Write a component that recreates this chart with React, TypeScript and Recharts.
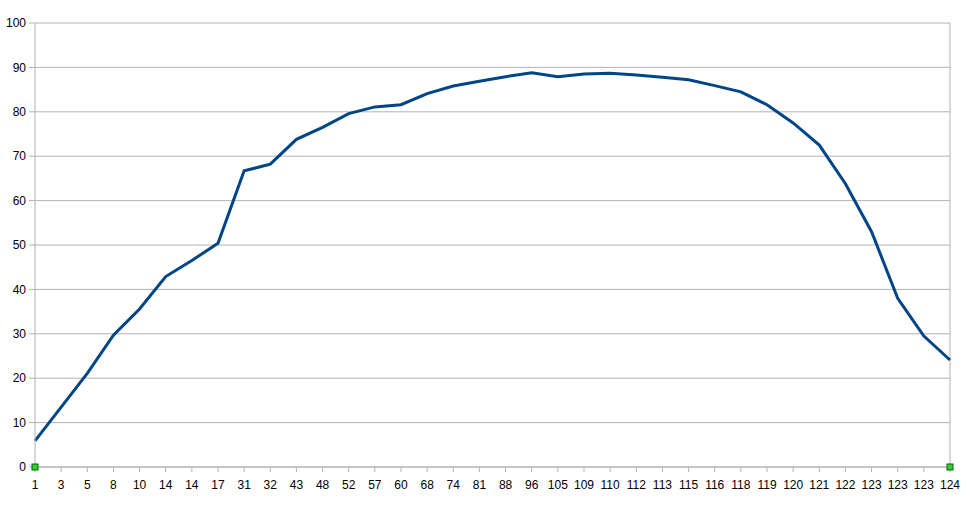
import React from "react";
import {
  LineChart,
  Line,
  XAxis,
  YAxis,
  CartesianGrid,
  ReferenceLine,
  ReferenceDot,
} from "recharts";

const labels = [
  "1", "3", "5", "8", "10", "14", "14", "17", "31", "32", "43", "48",
  "52", "57", "60", "68", "74", "81", "88", "96", "105", "109", "110", "112",
  "113", "115", "116", "118", "119", "120", "121", "122", "123", "123", "123", "124",
];

const values = [
  5.9, 13.5, 21.1, 29.7, 35.6, 42.9, 46.5, 50.4, 66.7, 68.2, 73.8, 76.5,
  79.6, 81.1, 81.6, 84.1, 85.8, 86.9, 87.9, 88.8, 87.9, 88.5, 88.7, 88.3,
  87.8, 87.2, 85.9, 84.5, 81.6, 77.5, 72.5, 63.8, 53.0, 38.0, 29.5, 24.1,
];

const yTicks = [0, 10, 20, 30, 40, 50, 60, 70, 80, 90, 100];

const data = labels.map((label, i) => ({ idx: i, label, value: values[i] }));

const gray = "#b3b3b3";
const tickFont = { fontFamily: "Liberation Sans, Arial, sans-serif", fontSize: 12, fill: "#000" };

const Handle = (props: any) => (
  <rect x={props.cx - 3} y={props.cy - 3} width={6} height={6} fill="#33cc33" stroke="#006600" strokeWidth={1} />
);

export default function App() {
  return (
    <div style={{ position: "absolute", left: 0, top: 0, background: "#fff" }}>
      <LineChart
        width={970}
        height={506}
        data={data}
        margin={{ top: 23, right: 20, bottom: 9, left: 0 }}
      >
        <CartesianGrid vertical={false} stroke={gray} strokeWidth={1} />
        <XAxis
          dataKey="idx"
          type="category"
          interval={0}
          tickFormatter={(i: number) => labels[i]}
          stroke={gray}
          tickSize={5}
          tickMargin={8}
          height={30}
          tick={tickFont}
        />
        <YAxis
          domain={[0, 100]}
          ticks={yTicks}
          interval={0}
          width={35}
          stroke={gray}
          tickSize={6}
          tickMargin={3}
          tick={tickFont}
        />
        <ReferenceLine x={labels.length - 1} stroke={gray} strokeWidth={1} />
        <Line
          type="linear"
          dataKey="value"
          stroke="#004586"
          strokeWidth={3}
          dot={false}
          activeDot={false}
          isAnimationActive={false}
        />
        <ReferenceDot x={0} y={0} r={3} shape={Handle} ifOverflow="visible" />
        <ReferenceDot x={labels.length - 1} y={0} r={3} shape={Handle} ifOverflow="visible" />
      </LineChart>
    </div>
  );
}
